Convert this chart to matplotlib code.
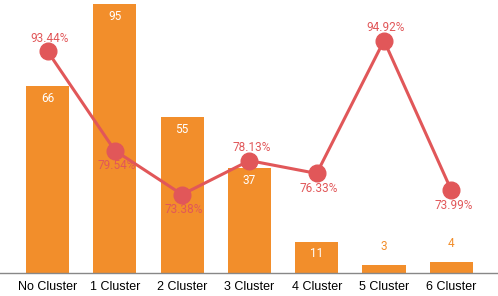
import matplotlib.pyplot as plt

categories = ["No Cluster", "1 Cluster", "2 Cluster", "3 Cluster", "4 Cluster", "5 Cluster", "6 Cluster"]
counts = [66, 95, 55, 37, 11, 3, 4]
accuracy = [93.44, 79.54, 73.38, 78.13, 76.33, 94.92, 73.99]

BAR_COLOR = "#F28E2B"
LINE_COLOR = "#E15759"

# where each percentage label sits relative to its marker
pct_side = ["above", "below", "below", "above", "below", "above", "below"]

fig = plt.figure(figsize=(4.98, 2.96), dpi=100)
ax = fig.add_axes([0.0, 23 / 296, 1.0, 273 / 296])
ax2 = ax.twinx()

x = list(range(len(categories)))

bars = ax.bar(x, counts, width=0.64, color=BAR_COLOR, zorder=2)
ax.set_xlim(-0.706, 6.694)
ax.set_ylim(0, 96.5)

# value labels: inside the bar when it is tall enough, above otherwise
for xi, v in zip(x, counts):
    if v >= 10:
        ax.annotate(str(v), (xi, v), xytext=(0, -12), textcoords="offset pixels",
                    ha="center", va="center", color="white", fontsize=8.5, family="Roboto")
    else:
        ax.annotate(str(v), (xi, v), xytext=(0, 18), textcoords="offset pixels",
                    ha="center", va="center", color=BAR_COLOR, fontsize=8.5, family="Roboto")

ax2.plot(x, accuracy, color=LINE_COLOR, linewidth=2.2, marker="o", markersize=12, zorder=3)
ax2.set_ylim(62.4, 100.6)

for xi, v, side in zip(x, accuracy, pct_side):
    dy = 13 if side == "above" else -15
    ax2.annotate(f"{v:.2f}%", (xi, v), xytext=(2, dy), textcoords="offset pixels",
                 ha="center", va="center", color=LINE_COLOR, fontsize=8.5, family="Roboto")

ax.set_xticks(x)
ax.set_xticklabels(categories, fontsize=9, family="Liberation Sans")
ax.tick_params(axis="x", length=0, pad=6)
ax.set_yticks([])
ax2.set_yticks([])

for a in (ax, ax2):
    for s in ("top", "left", "right"):
        a.spines[s].set_visible(False)
    a.spines["bottom"].set_visible(False)
ax.spines["bottom"].set_visible(True)
ax.spines["bottom"].set_color("#888888")
ax.spines["bottom"].set_linewidth(1)
ax.spines["bottom"].set_zorder(3)

plt.savefig("out.png", dpi=100)
